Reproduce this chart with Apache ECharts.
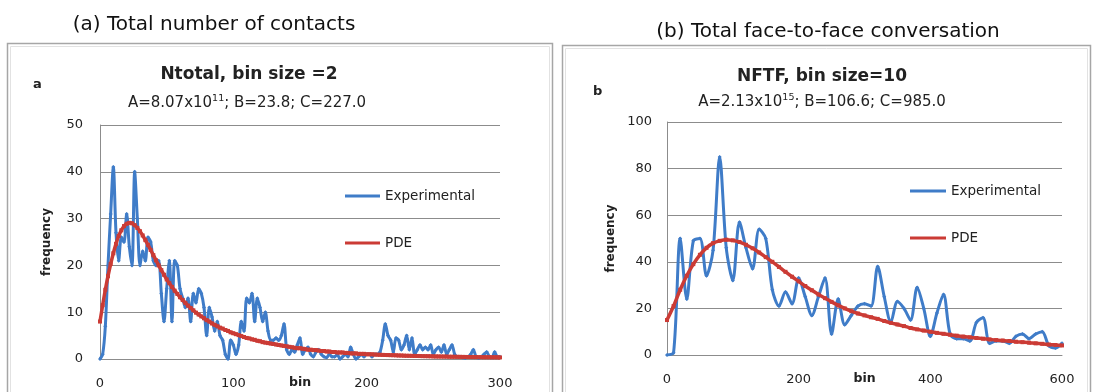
<!DOCTYPE html>
<html>
<head>
<meta charset="utf-8">
<script src="https://cdn.jsdelivr.net/npm/echarts@6/dist/echarts.min.js"></script>
<style>
  html, body { margin: 0; padding: 0; background: #fff; }
  #chart { width: 1096px; height: 392px; }
</style>
</head>
<body>
<div id="chart"></div>
<script>
// panel (a): Ntotal, bin size 2, bins 0..300
const expA = [
  0, 1, 7, 20, 31, 41, 27, 21, 26, 25, 31, 24, 20, 40, 30, 20, 23, 21, 26, 25,
  21, 20, 21, 14, 8, 15, 21, 8, 21, 20, 15, 13, 11, 13, 8, 14, 12, 15, 14, 11,
  5, 11, 9, 6, 8, 5, 4, 1, 0, 4, 3,
  1, 3, 8, 6, 13, 12, 14, 8, 13, 11, 8, 10, 6, 4, 4, 4.5, 4, 5, 7.5, 2,
  1, 2, 1.5, 3, 4.5, 1, 2, 2.5, 1, 0.5, 1.5, 2, 1, 0.5, 0.3, 1, 0.5, 0.5, 1, 0,
  0.5, 1, 0.5, 2.5, 1, 0, 0.5, 1, 0.5, 1,
  1, 0.5, 1, 1, 1.5, 4, 7.5, 5, 4, 1.5, 4.5, 4, 2, 3, 5, 2, 4.5, 1, 2, 3,
  2, 2.5, 2, 3, 1, 2, 2.5, 1.5, 3, 1, 2, 3, 1, 0.5, 0.5, 0.3, 0.2, 0.5, 1, 2,
  0.5, 0.2, 0.5, 1, 1.5, 0.5, 0.3, 1.5, 0.5, 0.5
]
const pdeA = [
  8.0, 11.5, 14.8, 17.7, 20.3, 22.6, 24.6, 26.3, 27.5, 28.4, 28.9, 29.1, 29.0, 28.6, 28.0, 27.3, 26.4, 25.4, 24.4, 23.3,
  22.2, 21.1, 20.0, 19.0, 18.0, 17.0, 16.2, 15.4, 14.6, 13.9, 13.2, 12.6, 12.0, 11.4, 10.9, 10.4, 9.9, 9.5, 9.1, 8.7,
  8.3, 8.0, 7.6, 7.3, 7.0, 6.7, 6.5, 6.2, 6.0, 5.7, 5.5,
  5.3, 5.1, 4.9, 4.7, 4.5, 4.4, 4.2, 4.1, 3.9, 3.8, 3.6, 3.5, 3.4, 3.3, 3.2, 3.1, 3.0, 2.9, 2.8, 2.7,
  2.6, 2.5, 2.4, 2.3, 2.3, 2.2, 2.1, 2.0, 2.0, 1.9, 1.9, 1.8, 1.7, 1.7, 1.6, 1.6, 1.5, 1.5, 1.4, 1.4,
  1.4, 1.3, 1.3, 1.2, 1.2, 1.2, 1.1, 1.1, 1.1, 1.0,
  1.0, 1.0, 0.95, 0.93, 0.9, 0.88, 0.86, 0.84, 0.82, 0.8, 0.78, 0.76, 0.74, 0.72, 0.7, 0.69, 0.67, 0.66, 0.64, 0.63,
  0.61, 0.6, 0.59, 0.57, 0.56, 0.55, 0.54, 0.53, 0.52, 0.51, 0.5, 0.49, 0.48, 0.47, 0.46, 0.45, 0.44, 0.43, 0.42, 0.41,
  0.41, 0.4, 0.39, 0.38, 0.38, 0.37, 0.36, 0.36, 0.35, 0.34
]

// panel (b): NFTF, bin size 10, bins 0..600
const expB = [
  0, 1, 50, 24, 49, 50, 34, 45, 85, 46, 32, 57, 46, 37, 54, 50, 28, 21, 27, 22,
  33, 25, 17, 25, 33, 9, 24, 13, 17, 21, 22, 21, 38, 25, 14, 23, 20, 15, 29, 20,
  8, 18, 26, 9, 7, 7, 6, 14, 16, 5, 6, 6, 5, 8, 9, 7, 9, 10, 4, 3, 5
]
const pdeB = [
  15, 21, 28, 34, 39, 43, 46, 48, 49, 49.5, 49.2, 48.5, 47.3, 45.8, 44, 42, 40, 37.8, 35.7, 33.6,
  31.6, 29.6, 27.8, 26, 24.4, 22.8, 21.3, 20, 18.8, 17.8, 17, 16.2, 15.5, 14.6, 13.8, 13.1, 12.4, 11.6, 11, 10.5,
  10, 9.5, 9.1, 8.7, 8.3, 7.9, 7.6, 7.3, 7, 6.7, 6.4, 6.2, 6, 5.7, 5.5, 5.3, 5, 4.8, 4.5, 4.3, 4.1
]

const binSizeA = 2
const binSizeB = 10
const legendNames = ['Experimental', 'PDE']

const BLUE = '#3f7cc8'
const RED = '#cb3b35'
const GRID_LINE = '#8c8c8c'
const TEXT = '#222'
const FONT = 'DejaVu Sans'

const pairs = (vals, step) => vals.map((v, i) => [i * step, v])

function makeX(gridIndex, max, interval) {
  return {
    gridIndex, type: 'value', min: 0, max, interval,
    name: 'bin', nameLocation: 'middle', nameGap: 17, nameMoveOverlap: false,
    nameTextStyle: { fontFamily: FONT, fontSize: 12.5, fontWeight: 'bold', color: TEXT, verticalAlign: 'top' },
    axisLine: { show: true, lineStyle: { color: GRID_LINE, width: 1 } },
    axisTick: { show: false },
    axisLabel: { margin: 18, fontFamily: FONT, fontSize: 13, color: TEXT },
    splitLine: { show: false }
  }
}

function makeY(gridIndex, max, interval, gap, margin) {
  return {
    gridIndex, type: 'value', min: 0, max, interval,
    name: 'frequency', nameLocation: 'middle', nameRotate: 90, nameGap: gap, nameMoveOverlap: false,
    nameTextStyle: { fontFamily: FONT, fontSize: 12, fontWeight: 'bold', color: TEXT },
    axisLine: { show: true, lineStyle: { color: GRID_LINE, width: 1 } },
    axisTick: { show: false },
    axisLabel: { margin, fontFamily: FONT, fontSize: 13, color: TEXT },
    splitLine: { show: true, lineStyle: { color: GRID_LINE, width: 1 } }
  }
}

function lineSeries(name, data, idx, color, width, symbol) {
  return {
    name, type: 'line', xAxisIndex: idx, yAxisIndex: idx, data,
    smooth: 0.3,
    symbol, symbolSize: 4, showSymbol: true, showAllSymbol: true,
    itemStyle: { color },
    lineStyle: { color, width },
    z: name === 'PDE' ? 3 : 2,
    animation: false
  }
}

const subRich = {
  n: { fontFamily: FONT, fontSize: 15, fontWeight: 'normal', color: TEXT, lineHeight: 18 },
  s: { fontFamily: FONT, fontSize: 9.5, fontWeight: 'normal', color: TEXT, lineHeight: 10, verticalAlign: 'top' }
}
const outerStyle = { fontFamily: FONT, fontSize: 20, fontWeight: 'normal', color: '#111' }
const innerStyle = { fontFamily: FONT, fontSize: 17, fontWeight: 'bold', color: TEXT }
const letterStyle = { fontFamily: FONT, fontSize: 13, fontWeight: 'bold', color: TEXT }

const chart = echarts.init(document.getElementById('chart'))

chart.setOption({
  backgroundColor: '#fff',
  animation: false,
  title: [
    { text: '(a) Total number of contacts', left: 214, top: 15, textAlign: 'center', padding: 0, textStyle: outerStyle },
    { text: '(b) Total face-to-face conversation', left: 828, top: 22, textAlign: 'center', padding: 0, textStyle: outerStyle },
    { text: 'Ntotal, bin size =2', left: 249, top: 66, textAlign: 'center', padding: 0, textStyle: innerStyle },
    { text: 'NFTF, bin size=10', left: 822, top: 68, textAlign: 'center', padding: 0, textStyle: innerStyle },
    { text: '{n|A=8.07x10}{s|11}{n|; B=23.8; C=227.0}', left: 247, top: 94, textAlign: 'center', padding: 0,
      textStyle: { rich: subRich } },
    { text: '{n|A=2.13x10}{s|15}{n|; B=106.6; C=985.0}', left: 822, top: 93, textAlign: 'center', padding: 0,
      textStyle: { rich: subRich } },
    { text: 'a', left: 33, top: 78, padding: 0, textStyle: letterStyle },
    { text: 'b', left: 593, top: 85, padding: 0, textStyle: letterStyle }
  ],
  legend: [
    { data: legendNames, orient: 'vertical', left: 345, top: 189, padding: 0, icon: 'rect',
      itemWidth: 35, itemHeight: 3, itemGap: 33,
      textStyle: { fontFamily: FONT, fontSize: 13.5, color: TEXT }, selectedMode: false },
    { data: legendNames, orient: 'vertical', left: 910, top: 184, padding: 0, icon: 'rect',
      itemWidth: 36, itemHeight: 3, itemGap: 33,
      textStyle: { fontFamily: FONT, fontSize: 13.5, color: TEXT }, selectedMode: false }
  ],
  grid: [
    { left: 100, right: 596, top: 125, bottom: 33, outerBoundsMode: 'none', containLabel: false },
    { left: 667, right: 34, top: 122, bottom: 37, outerBoundsMode: 'none', containLabel: false }
  ],
  xAxis: [makeX(0, 300, 100), makeX(1, 600, 200)],
  yAxis: [makeY(0, 50, 10, 47, 17), makeY(1, 100, 20, 50, 15)],
  series: [
    lineSeries('Experimental', pairs(expA, binSizeA), 0, BLUE, 3, 'diamond'),
    lineSeries('PDE', pairs(pdeA, binSizeA), 0, RED, 3.5, 'rect'),
    lineSeries('Experimental', pairs(expB, binSizeB), 1, BLUE, 3, 'diamond'),
    lineSeries('PDE', pairs(pdeB, binSizeB), 1, RED, 3.5, 'rect')
  ],
  graphic: [
    { type: 'rect', shape: { x: 7.5, y: 43.5, width: 545, height: 360 }, silent: true, z: -10,
      style: { fill: null, stroke: '#a6a6a6', lineWidth: 1.5 } },
    { type: 'rect', shape: { x: 10.5, y: 46.5, width: 539, height: 360 }, silent: true, z: -10,
      style: { fill: null, stroke: '#e2e2e2', lineWidth: 1 } },
    { type: 'rect', shape: { x: 562.5, y: 45.5, width: 528, height: 360 }, silent: true, z: -10,
      style: { fill: null, stroke: '#a6a6a6', lineWidth: 1.5 } },
    { type: 'rect', shape: { x: 565.5, y: 48.5, width: 522, height: 360 }, silent: true, z: -10,
      style: { fill: null, stroke: '#e2e2e2', lineWidth: 1 } }
  ]
})
</script>
</body>
</html>
